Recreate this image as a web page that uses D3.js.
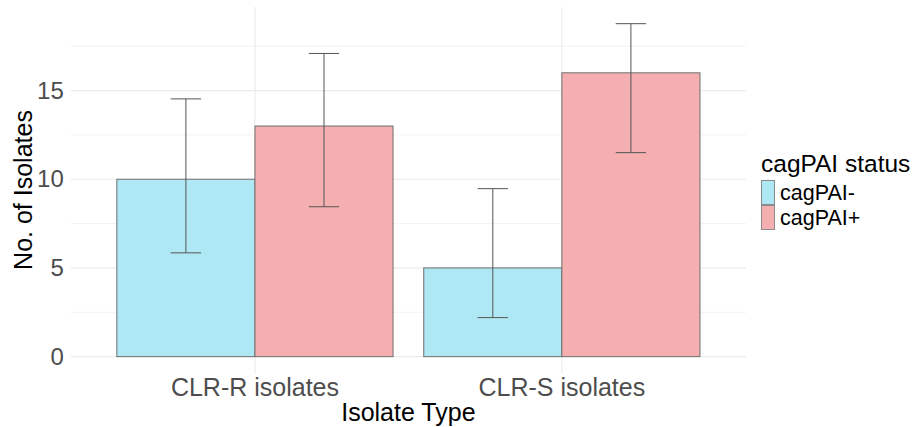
<!DOCTYPE html>
<html>
<head>
<meta charset="utf-8">
<script src="https://cdn.jsdelivr.net/npm/d3@7"></script>
<style>
  body { margin: 0; background: #fff; }
  text { font-family: "Liberation Sans", Arial, sans-serif; }
</style>
</head>
<body>
<div id="container"></div>
<script>
// data
let categories = ["CLR-R isolates", "CLR-S isolates"];
let series = ["cagPAI-", "cagPAI+"];
let counts = { "cagPAI-": [10, 5], "cagPAI+": [13, 16] };
let lower = { "cagPAI-": [5.85, 2.2], "cagPAI+": [8.45, 11.5] };
let upper = { "cagPAI-": [14.53, 9.47], "cagPAI+": [17.09, 18.77] };
let yTicks = [0, 5, 10, 15];
let yMinor = [2.5, 7.5, 12.5, 17.5];
let colors = ["#aee8f4", "#f5afb0"];

let viz = d3.select("#container")
  .append("svg")
    .attr("width", 916)
    .attr("height", 427)
;

let x = d3.scaleBand()
  .domain(categories)
  .range([70.8, 746])
  .paddingInner(0.1)
  .paddingOuter(0.15)
;

let xs = d3.scaleBand()
  .domain(series)
  .range([0, x.bandwidth()])
;

let y = d3.scaleLinear()
  .domain([-0.94, 19.71])
  .range([373.3, 7])
;

let color = d3.scaleOrdinal().domain(series).range(colors);

// grid
viz.selectAll(".minor")
  .data(yMinor)
  .enter()
  .append("line")
    .attr("x1", 70.8)
    .attr("x2", 746)
    .attr("y1", d => y(d))
    .attr("y2", d => y(d))
    .attr("stroke", "#f2f2f2")
    .attr("stroke-width", 1)
;

viz.selectAll(".major")
  .data(yTicks)
  .enter()
  .append("line")
    .attr("x1", 70.8)
    .attr("x2", 746)
    .attr("y1", d => y(d))
    .attr("y2", d => y(d))
    .attr("stroke", "#ebebeb")
    .attr("stroke-width", 1.2)
;

viz.selectAll(".vgrid")
  .data(categories)
  .enter()
  .append("line")
    .attr("x1", d => x(d) + x.bandwidth() / 2)
    .attr("x2", d => x(d) + x.bandwidth() / 2)
    .attr("y1", y.range()[0])
    .attr("y2", y.range()[1])
    .attr("stroke", "#ebebeb")
    .attr("stroke-width", 1.2)
;

// bars
let rows = [];
series.forEach(s => {
  categories.forEach((c, i) => {
    rows.push({ cat: c, s: s, v: counts[s][i], lo: lower[s][i], hi: upper[s][i] });
  });
});

viz.selectAll(".bar")
  .data(rows)
  .enter()
  .append("rect")
    .attr("x", d => x(d.cat) + xs(d.s))
    .attr("y", d => y(d.v))
    .attr("width", xs.bandwidth())
    .attr("height", d => y(0) - y(d.v))
    .attr("fill", d => color(d.s))
    .attr("stroke", "#6f6f6f")
    .attr("stroke-width", 1)
;

// error bars
let capW = xs.bandwidth() * 0.22;
let eb = viz.selectAll(".eb")
  .data(rows)
  .enter()
  .append("g")
    .attr("transform", d => "translate(" + (x(d.cat) + xs(d.s) + xs.bandwidth() / 2) + ",0)")
;
eb.append("line")
    .attr("x1", 0).attr("x2", 0)
    .attr("y1", d => y(d.lo)).attr("y2", d => y(d.hi))
    .attr("stroke", "#555").attr("stroke-width", 1)
;
eb.append("line")
    .attr("x1", -capW / 2).attr("x2", capW / 2)
    .attr("y1", d => y(d.lo)).attr("y2", d => y(d.lo))
    .attr("stroke", "#555").attr("stroke-width", 1)
;
eb.append("line")
    .attr("x1", -capW / 2).attr("x2", capW / 2)
    .attr("y1", d => y(d.hi)).attr("y2", d => y(d.hi))
    .attr("stroke", "#555").attr("stroke-width", 1)
;

// axes (ticks only, no lines)
let yAxis = viz.append("g")
  .attr("transform", "translate(70.8,0)")
  .call(d3.axisLeft(y).tickValues(yTicks).tickSize(0).tickPadding(7));
yAxis.select(".domain").remove();
yAxis.selectAll("text")
  .attr("font-family", "Liberation Sans, Arial, sans-serif")
  .attr("font-size", 24)
  .attr("fill", "#4d4d4d");

let xAxis = viz.append("g")
  .attr("transform", "translate(0,373.3)")
  .call(d3.axisBottom(x).tickSize(0).tickPadding(5));
xAxis.select(".domain").remove();
xAxis.selectAll("text")
  .attr("font-family", "Liberation Sans, Arial, sans-serif")
  .attr("font-size", 25)
  .attr("fill", "#4d4d4d");

// axis titles
viz.append("text")
  .text("Isolate Type")
  .attr("x", 408.4)
  .attr("y", 421)
  .attr("text-anchor", "middle")
  .attr("font-size", 25)
  .attr("fill", "#000")
;

viz.append("text")
  .text("No. of Isolates")
  .attr("transform", "translate(32,190) rotate(-90)")
  .attr("text-anchor", "middle")
  .attr("font-size", 25)
  .attr("fill", "#000")
;

// legend
viz.append("text")
  .text("cagPAI status")
  .attr("x", 761)
  .attr("y", 172)
  .attr("font-size", 24.5)
  .attr("fill", "#000")
;

let leg = viz.selectAll(".leg")
  .data(series)
  .enter()
  .append("g")
    .attr("transform", (d, i) => "translate(761," + (180 + i * 25) + ")")
;
leg.append("rect")
    .attr("x", 0.5).attr("y", 0.5)
    .attr("width", 13).attr("height", 24)
    .attr("fill", d => color(d))
    .attr("stroke", "#8a8a8a")
    .attr("stroke-width", 1)
;
leg.append("text")
    .text(d => d)
    .attr("x", 19)
    .attr("y", 20)
    .attr("font-size", 21.5)
    .attr("fill", "#000")
;
</script>
</body>
</html>
